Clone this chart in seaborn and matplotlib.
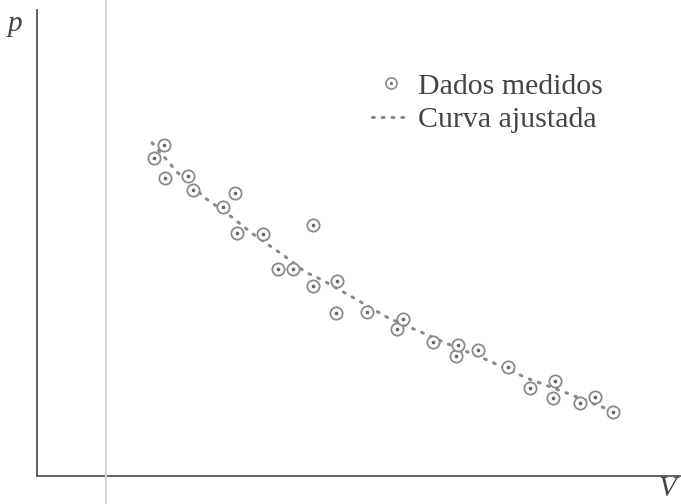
import matplotlib
matplotlib.use("Agg")
import matplotlib.pyplot as plt
from matplotlib.lines import Line2D
from matplotlib.legend_handler import HandlerTuple
import seaborn as sns
import pandas as pd

# Measured pressure/volume pairs
V_medido = [1.82, 1.98, 1.99, 2.35, 2.43, 2.89, 3.08, 3.11, 3.51, 3.75,
            3.98, 4.29, 4.29, 4.67, 4.65, 5.13, 5.60, 5.69, 6.16, 6.52,
            6.55, 6.86, 7.33, 7.67, 8.02, 8.06, 8.44, 8.68, 8.96]
p_medido = [6.82, 7.10, 6.39, 6.44, 6.14, 5.77, 6.07, 5.21, 5.19, 4.44,
            4.44, 5.39, 4.08, 4.18, 3.50, 3.52, 3.15, 3.37, 2.88, 2.58,
            2.81, 2.70, 2.34, 1.89, 1.67, 2.04, 1.57, 1.70, 1.37]

# Fitted curve samples
V_ajuste = [1.79, 2.18, 2.61, 2.97, 3.36, 3.83, 4.17, 4.43, 4.98, 5.44,
            6.31, 7.00, 7.62, 8.24, 8.99]
p_ajuste = [7.15, 6.52, 5.97, 5.62, 5.19, 4.74, 4.38, 4.21, 3.78, 3.41,
            2.88, 2.49, 2.10, 1.78, 1.37]

rotulo_dados = "Dados medidos"
rotulo_curva = "Curva ajustada"

sns.set_theme(style="white")
plt.rcParams["font.family"] = ["Liberation Serif", "DejaVu Serif"]

W, H = 681, 504
fig = plt.figure(figsize=(W / 100, H / 100), dpi=100)
ax = fig.add_axes([37 / W, (H - 476) / H, (680 - 37) / W, (476 - 10) / H])

cinza = "#8a8a8a"
df_m = pd.DataFrame({"V": V_medido, "p": p_medido})
df_a = pd.DataFrame({"V": V_ajuste, "p": p_ajuste})

sns.lineplot(data=df_a, x="V", y="p", ax=ax, color=cinza, lw=2.2,
             linestyle=(0, (0.6, 2.6)), dash_capstyle="round", sort=False)
sns.scatterplot(data=df_m, x="V", y="p", ax=ax, marker="o", s=78,
                facecolor="white", edgecolor=cinza, linewidth=1.3, zorder=3)
sns.scatterplot(data=df_m, x="V", y="p", ax=ax, marker="o", s=7,
                color="#666666", linewidth=0, zorder=4)

ax.set_xlim(0, 10)
ax.set_ylim(0, 10)
ax.set_xticks([])
ax.set_yticks([])
for s in ["top", "right"]:
    ax.spines[s].set_visible(False)
for s in ["left", "bottom"]:
    ax.spines[s].set_color("#555555")
    ax.spines[s].set_linewidth(1.3)

ax.set_xlabel("V", fontsize=21, style="italic", color="#444444", va="center")
ax.set_ylabel("p", fontsize=21, style="italic", color="#444444", rotation=0,
              va="center", ha="center")
ax.xaxis.set_label_coords((667 - 37) / 643, (476 - 489) / 466)
ax.yaxis.set_label_coords((15 - 37) / 643, (476 - 24) / 466)

# Legend
h_circ = Line2D([], [], ls="none", marker="o", ms=8, mfc="white",
                mec=cinza, mew=1.2)
h_dot = Line2D([], [], ls="none", marker="o", ms=2.2, mfc="#666666", mec="none")
h_line = Line2D([], [], color=cinza, lw=2.2, ls=(0, (0.6, 2.6)),
                dash_capstyle="round")
leg = ax.legend([(h_circ, h_dot), h_line], [rotulo_dados, rotulo_curva],
                handler_map={tuple: HandlerTuple(ndivide=1, pad=0)},
                loc="upper left", bbox_to_anchor=(372 / W, (H - 73) / H),
                bbox_transform=fig.transFigure, frameon=False, fontsize=21.5,
                handlelength=1.25, handletextpad=0.3, labelspacing=0.22,
                borderaxespad=0, borderpad=0)
for t in leg.get_texts():
    t.set_color("#444444")

# faint vertical rule across the page
fig.add_artist(Line2D([106 / W, 106 / W], [0, 1], transform=fig.transFigure,
                      color="#d8d8d8", lw=1.5))

fig.savefig("out.png", dpi=100)
